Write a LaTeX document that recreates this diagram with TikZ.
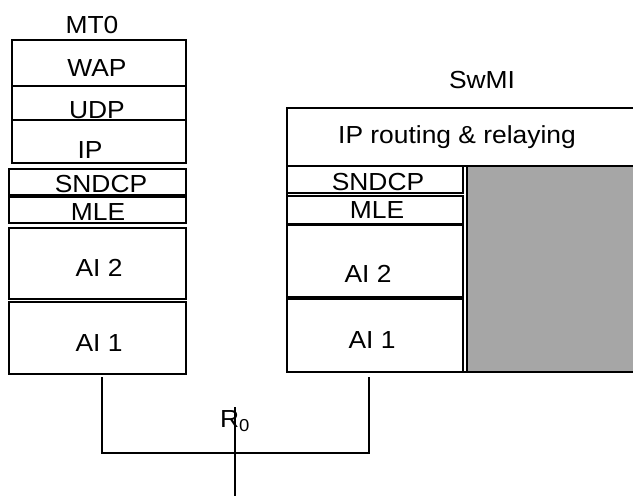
\documentclass[tikz,border=0pt]{standalone}
\usepackage{fontspec}
\setmainfont{Liberation Sans}[FakeStretch=1.07]
\definecolor{relaygray}{RGB}{166,166,166}

\begin{document}
\begin{tikzpicture}[x=.75pt,y=-.75pt,line width=1.5pt,font=\fontsize{18.5}{20}\selectfont]
\useasboundingbox (0,0) rectangle (633,496);
% MT0 protocol stack
\draw (12,40) rectangle (186,86) (12,86) rectangle (186,120) (12,120) rectangle (186,163);
\draw (9,169) rectangle (186,195) (9,197) rectangle (186,223) (9,228) rectangle (186,299) (9,302) rectangle (186,374);
% SwMI protocol stack
\draw[fill=relaygray] (467,166) rectangle (640,372);
\draw (287,108) rectangle (640,372) (287,166)--(640,166);
\draw (287,166) rectangle (463,193) (287,196) rectangle (463,224) (287,225) rectangle (463,297) (287,299) rectangle (463,372);
\node[inner sep=0pt] (mtzero) at (92,25) {MT0};
\node[inner sep=0pt] (mtwap) at (97,68) {WAP};
\node[inner sep=0pt] (mtudp) at (97,110) {UDP};
\node[inner sep=0pt] (mtip) at (90,150) {IP};
\node[inner sep=0pt] (mtsndcp) at (101,184) {SNDCP};
\node[inner sep=0pt] (mtmle) at (98,212) {MLE};
\node[inner sep=0pt] (mtaitwo) at (99,268) {AI 2};
\node[inner sep=0pt] (mtaione) at (99,343) {AI 1};
\node[inner sep=0pt] (swmi) at (482,80) {SwMI};
\node[inner sep=0pt] (swrelay) at (457,137) {IP routing \& relaying};
\node[inner sep=0pt] (swsndcp) at (378,182) {SNDCP};
\node[inner sep=0pt] (swmle) at (377,210) {MLE};
\node[inner sep=0pt] (swaitwo) at (368,274) {AI 2};
\node[inner sep=0pt] (swaione) at (372,340) {AI 1};
\node[inner sep=0pt] (rzero) at (235,421) {R\textsubscript{0}};
% R0 reference point
\coordinate (mtlink) at (102,377);
\coordinate (swlink) at (369,377);
\coordinate (bus) at (235,453);
\coordinate (rtop) at (235,407);
\coordinate (rbot) at (235,498);
\draw (mtlink) |- (bus) -| (swlink);
\draw (rtop)--(rbot);
\end{tikzpicture}
\end{document}
